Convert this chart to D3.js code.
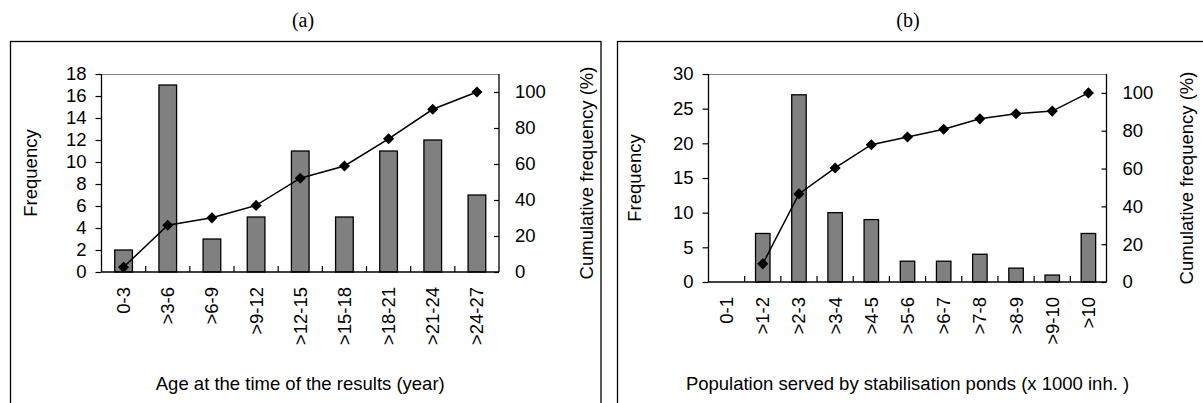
<!DOCTYPE html>
<html>
<head>
<meta charset="utf-8">
<script src="https://cdn.jsdelivr.net/npm/d3@7"></script>
<style>
  body { margin: 0; background: #fff; }
  svg { display: block; }
  text { font-family: "Liberation Sans", Arial, sans-serif; fill: #000; }
</style>
</head>
<body>
<div id="chart"></div>
<script>
// panel (a): age of the ponds
const ageCats = ["0-3", ">3-6", ">6-9", ">9-12", ">12-15", ">15-18", ">18-21", ">21-24", ">24-27"];
const ageFreq = [2, 17, 3, 5, 11, 5, 11, 12, 7];
const ageCum = [2.7, 26, 30.1, 37, 52.1, 58.9, 74, 90.4, 100];
const ageFreqTicks = [0, 2, 4, 6, 8, 10, 12, 14, 16, 18];

// panel (b): population served
const popCats = ["0-1", ">1-2", ">2-3", ">3-4", ">4-5", ">5-6", ">6-7", ">7-8", ">8-9", ">9-10", ">10"];
const popFreq = [0, 7, 27, 10, 9, 3, 3, 4, 2, 1, 7];
const popCum = [null, 9.6, 46.6, 60.3, 72.6, 76.7, 80.8, 86.3, 89, 90.4, 100];
const popFreqTicks = [0, 5, 10, 15, 20, 25, 30];

const cumTicks = [0, 20, 40, 60, 80, 100];

const barFill = "#808080";
const fontSize = 18.5;

var svg = d3.select("#chart").append("svg")
            .attr("width", 1203)
            .attr("height", 403);

function drawPanel(opt) {
    /* One framed panel: frequency bars on the left axis, cumulative line on the right. */
    var g = svg.append("g");

    // outer frame (runs off the bottom of the picture)
    g.append("rect")
        .attr("x", opt.frame[0]).attr("y", opt.frame[1])
        .attr("width", opt.frame[2]).attr("height", 420)
        .attr("fill", "none").attr("stroke", "#000").attr("stroke-width", 1.3);

    g.append("text")
        .attr("x", opt.titleX).attr("y", 27)
        .attr("text-anchor", "middle")
        .style("font-family", "'Liberation Serif', 'Times New Roman', serif")
        .style("font-size", "20px")
        .text(opt.title);

    var x = d3.scaleBand().domain(opt.cats).range([opt.left, opt.right]);
    var y = d3.scaleLinear().domain([0, opt.freqMax]).range([opt.bottom, opt.top]);
    var y2 = d3.scaleLinear().domain([0, 110]).range([opt.bottom, opt.top]);
    var barW = x.bandwidth() * opt.barRatio;

    // grey top border of the plot area
    g.append("line")
        .attr("x1", opt.left).attr("x2", opt.right)
        .attr("y1", opt.top + 0.5).attr("y2", opt.top + 0.5)
        .attr("stroke", "#808080").attr("stroke-width", 1);

    // bars
    g.append("g").selectAll("rect")
        .data(opt.freq)
        .join("rect")
        .attr("x", function(d, i) { return x(opt.cats[i]) + (x.bandwidth() - barW) / 2; })
        .attr("y", function(d) { return y(d); })
        .attr("width", barW)
        .attr("height", function(d) { return opt.bottom - y(d); })
        .attr("fill", barFill)
        .attr("stroke", "#000")
        .attr("stroke-width", 1.3)
        .style("display", function(d) { return d > 0 ? null : "none"; });

    // left axis
    var leftAxis = d3.axisLeft(y).tickValues(opt.freqTicks).tickSize(6).tickPadding(9);
    var la = g.append("g").attr("transform", "translate(" + opt.left + ",0)").call(leftAxis);
    // right axis, ticks pointing inward
    var rightAxis = d3.axisRight(y2).tickValues(cumTicks).tickSizeInner(-5).tickSizeOuter(0).tickPadding(17);
    var ra = g.append("g").attr("transform", "translate(" + opt.right + ",0)").call(rightAxis);
    [la, ra].forEach(function(a) {
        a.select(".domain").attr("stroke", "#000").attr("stroke-width", 1.3)
            .attr("d", "M0," + opt.bottom + "V" + opt.top);
        a.selectAll(".tick line").attr("stroke", "#000").attr("stroke-width", 1.2);
        a.selectAll(".tick text").style("font-size", fontSize + "px")
            .style("font-family", "'Liberation Sans', Arial, sans-serif");
    });
    ra.selectAll(".tick text").attr("x", 16);

    // bottom axis with ticks between categories pointing up
    var bx = g.append("g");
    bx.append("line")
        .attr("x1", opt.left).attr("x2", opt.right)
        .attr("y1", opt.bottom).attr("y2", opt.bottom)
        .attr("stroke", "#000").attr("stroke-width", 1.5);
    bx.selectAll("line.sep")
        .data(opt.cats.slice(1))
        .join("line")
        .attr("class", "sep")
        .attr("x1", function(d) { return x(d); })
        .attr("x2", function(d) { return x(d); })
        .attr("y1", opt.bottom).attr("y2", opt.bottom - 6)
        .attr("stroke", "#000").attr("stroke-width", 1.2);
    bx.selectAll("text")
        .data(opt.cats)
        .join("text")
        .attr("transform", function(d) {
            return "translate(" + (x(d) + x.bandwidth() / 2) + "," + (opt.bottom + 15) + ") rotate(-90)";
        })
        .attr("text-anchor", "end")
        .attr("dy", "0.35em")
        .style("font-size", fontSize + "px")
        .text(function(d) { return d; });

    // cumulative line + diamonds
    var pts = opt.cum.map(function(v, i) { return { c: opt.cats[i], v: v }; })
                     .filter(function(d) { return d.v !== null; });
    var line = d3.line()
        .x(function(d) { return x(d.c) + x.bandwidth() / 2; })
        .y(function(d) { return y2(d.v); });
    g.append("path")
        .datum(pts)
        .attr("d", line)
        .attr("fill", "none")
        .attr("stroke", "#000")
        .attr("stroke-width", 1.5);
    var diamond = d3.symbol().type(d3.symbolSquare).size(62);
    g.append("g").selectAll("path")
        .data(pts)
        .join("path")
        .attr("transform", function(d) {
            return "translate(" + (x(d.c) + x.bandwidth() / 2) + "," + y2(d.v) + ") rotate(45)";
        })
        .attr("d", diamond)
        .attr("fill", "#000");

    // axis titles
    g.append("text")
        .attr("transform", "translate(" + opt.yLabelX + "," + ((opt.top + opt.bottom) / 2) + ") rotate(-90)")
        .attr("text-anchor", "middle")
        .attr("dy", "0.35em")
        .style("font-size", fontSize + "px")
        .text("Frequency");
    g.append("text")
        .attr("transform", "translate(" + opt.y2LabelX + "," + ((opt.top + opt.bottom) / 2) + ") rotate(-90)")
        .attr("text-anchor", "middle")
        .attr("dy", "0.35em")
        .style("font-size", fontSize + "px")
        .text("Cumulative frequency (%)");
    g.append("text")
        .attr("x", (opt.left + opt.right) / 2)
        .attr("y", 390)
        .attr("text-anchor", "middle")
        .style("font-size", fontSize + "px")
        .text(opt.xTitle);
}

drawPanel({
    frame: [10.5, 41.5, 590.5],
    title: "(a)", titleX: 303,
    cats: ageCats, freq: ageFreq, cum: ageCum,
    freqMax: 18, freqTicks: ageFreqTicks,
    left: 101.5, right: 499, top: 74, bottom: 272,
    barRatio: 0.4,
    yLabelX: 31, y2LabelX: 587,
    xTitle: "Age at the time of the results (year)"
});

drawPanel({
    frame: [617.5, 41.5, 600],
    title: "(b)", titleX: 908,
    cats: popCats, freq: popFreq, cum: popCum,
    freqMax: 30, freqTicks: popFreqTicks,
    left: 708.5, right: 1106.5, top: 74, bottom: 282,
    barRatio: 0.4,
    yLabelX: 635, y2LabelX: 1187,
    xTitle: "Population served by stabilisation ponds (x 1000 inh. )"
});
</script>
</body>
</html>
